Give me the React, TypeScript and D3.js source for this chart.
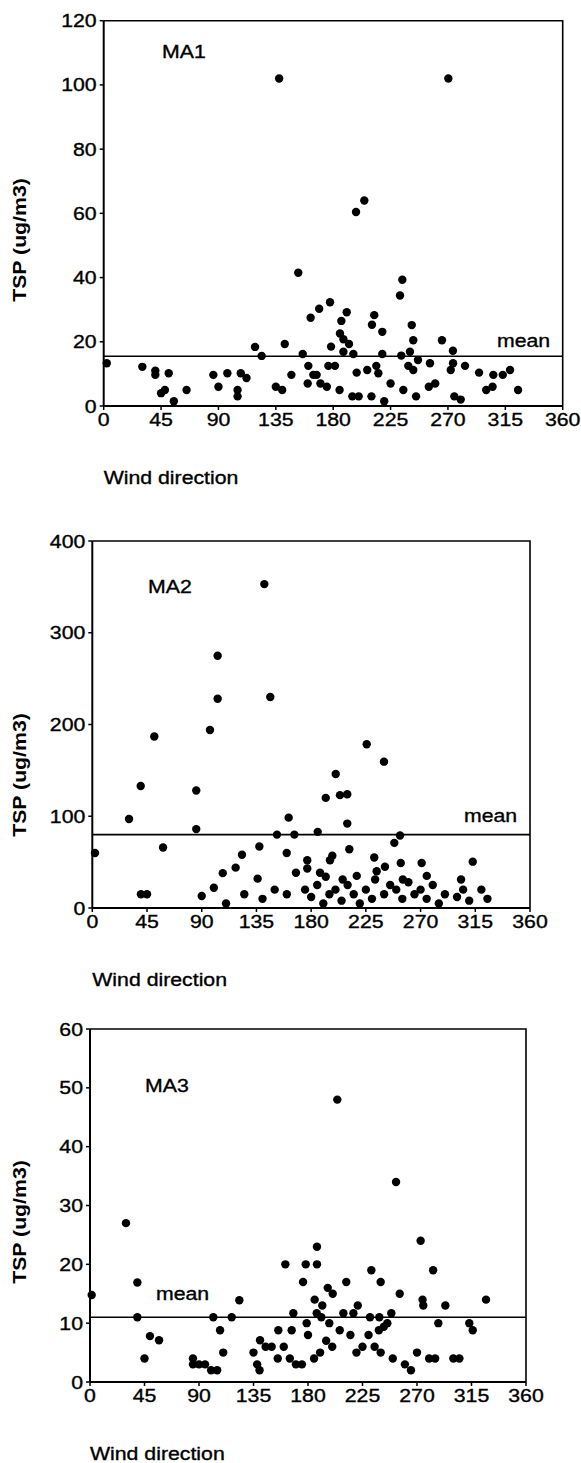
import * as d3 from 'd3'

// wind direction (deg) and TSP (ug/m3)
const ma1Dir = [137.6, 270.3, 204.4, 2.4, 30.3, 40.5, 40.5, 51, 86, 97, 107.5, 112, 118.7, 123.9, 197.9, 152.6, 234.2, 232.4, 177.5, 169, 162.3, 190.6, 212.2, 210.4, 186.4, 218.5, 241.6, 242.8, 265.3, 185.3, 188, 192.4, 188, 195.8, 178.3, 142, 156.1, 218.5, 233.4, 240.2, 273.9, 246.5, 255.9, 160.5, 176.2, 181.4, 213.8, 238.9, 274, 272.2, 283.4, 294.4, 305.6, 313, 318.7, 147.2, 167, 164.4, 198.4, 206.7, 215.4, 242.8,
  45, 48, 55, 65, 90, 105, 105, 135, 140, 160, 170, 175, 185, 195, 200, 210, 220, 225, 235, 245, 255, 260, 275, 280, 300, 305, 325]
const ma1Tsp = [102, 102, 64, 13.3, 12.2, 11, 9.7, 10.2, 9.7, 10.2, 10.2, 8.7, 18.4, 15.6, 60.4, 41.5, 39.3, 34.4, 32.3, 30.3, 27.5, 29.2, 28.3, 25.3, 26.5, 23.1, 25.2, 20.5, 20.5, 22.6, 20.8, 19.3, 16.9, 16.2, 18.5, 19.3, 16.2, 16.2, 15.7, 16.9, 17.2, 14.3, 13.3, 12.5, 12.5, 12.5, 12.5, 12.5, 13.3, 11.2, 12.5, 10.4, 9.7, 9.7, 11.2, 9.7, 9.7, 9.7, 10.4, 11.2, 10.2, 11.2,
  4, 5, 1.5, 5, 6, 3, 5, 6, 5, 7, 7, 6, 5, 3, 3, 3, 1.5, 7, 5, 3, 6, 7, 3, 2, 5, 6, 5]

const ma2Dir = [141.5, 103.1, 103.1, 146.4, 51, 96.8, 39.8, 85.5, 30.2, 85.5, 2.2, 58.2, 161.5, 151.9, 166.2, 185.4, 192, 200.2, 203.7, 209.7, 209.7, 211.4, 137.4, 123.1, 117.9, 107.3, 159.9, 167.5, 176.8, 176.8, 187.3, 195.5, 197.4, 192, 205.9, 217.5, 136, 225.7, 239.9, 253.1, 248.4, 231.9, 240.7, 233.9, 253.7, 270.9, 312.9, 232.6, 255.4, 275.1, 303.3,
  40, 45, 90, 100, 110, 125, 140, 150, 160, 175, 180, 185, 190, 195, 200, 205, 210, 215, 220, 225, 230, 240, 245, 250, 255, 260, 265, 270, 275, 280, 285, 290, 300, 305, 310, 320, 325]
const ma2Tsp = [353, 275, 228, 230, 187, 194, 133, 128, 97, 86, 60, 66, 98.5, 80, 80, 83, 120, 146, 123, 124, 92, 64, 67, 58, 44, 38, 60, 38.5, 52, 43, 38.5, 52, 57, 34, 31, 35, 32, 178.5, 159.5, 79, 71, 55, 45, 40, 49, 49, 50.5, 31, 31, 35, 31,
  15, 15, 13, 22, 5, 15, 10, 20, 15, 20, 12, 25, 5, 15, 20, 8, 25, 15, 5, 20, 10, 15, 25, 20, 10, 28, 15, 20, 10, 25, 5, 15, 12, 20, 8, 20, 10]

const ma3Dir = [204.2, 29.7, 1.4, 39.1, 39.1, 49.5, 57, 101.8, 107.4, 117, 123.3, 140.4, 252.7, 273, 283.3, 187.4, 161.3, 178.1, 187.4, 232.3, 175.9, 211.6, 240, 196.3, 200.4, 255.7, 327, 274.6, 275.2, 293.4, 185.5, 191.8, 221.1, 167.9, 187.2, 191, 209.2, 217.5, 248.8, 231.2, 238.9, 245.5, 287.6, 313.2, 316, 178.9, 197.6, 166.5, 155.5, 206.2, 238.5, 242.6,
  45, 85, 85, 90, 95, 100, 105, 110, 135, 138, 140, 145, 150, 155, 160, 165, 170, 175, 180, 185, 190, 195, 200, 215, 220, 225, 230, 235, 240, 250, 260, 265, 270, 280, 285, 300, 305]
const ma3Tsp = [48, 27, 14.8, 16.9, 11, 7.8, 7.1, 11, 8.8, 11, 13.9, 7.1, 34, 24, 19, 23, 20, 20, 20, 19, 17, 17, 17, 16, 15, 15, 14, 14, 13, 13, 14, 13, 13, 11.7, 11.7, 11, 11.7, 11.7, 11.7, 11, 11, 10, 10, 10, 8.8, 10, 10, 8.8, 8.8, 8.8, 8.8, 9.4,
  4, 4, 3, 3, 3, 2, 2, 5, 5, 3, 2, 6, 6, 4, 6, 4, 3, 3, 8, 4, 5, 7, 6, 8, 5, 6, 8, 6, 5, 4, 3, 2, 5, 4, 4, 4, 4]

const xTicks = [0, 45, 90, 135, 180, 225, 270, 315, 360]

const FONT = 'Liberation Sans, Arial, sans-serif'
const STRETCH = 1.15

interface PanelProps {
  name: string
  dir: number[]
  tsp: number[]
  mean: number
  yMax: number
  yStep: number
  left: number
  right: number
  top: number
  bottom: number
  nameX: number
  nameY: number
  meanX: number
  meanY: number
  titleY: number
}

// scanned text is a little wider and heavier than plain Arial
function Label({ x, y, text, anchor = 'start' }: { x: number; y: number; text: string; anchor?: string }) {
  return (
    <text
      transform={`translate(${x},${y}) scale(${STRETCH},1)`}
      fontFamily={FONT}
      fontSize={18.5}
      textAnchor={anchor}
      fill="#000"
      stroke="#000"
      strokeWidth={0.35}
    >
      {text}
    </text>
  )
}

function Panel(p: PanelProps) {
  const x = d3.scaleLinear().domain([0, 360]).range([p.left, p.right])
  const y = d3.scaleLinear().domain([0, p.yMax]).range([p.bottom, p.top])
  const yTicks = d3.range(0, p.yMax + 1, p.yStep)

  return (
    <g>
      {/* frame */}
      <path
        d={`M${p.left},${p.top}H${p.right}V${p.bottom}`}
        fill="none"
        stroke="#000"
        strokeWidth={1.6}
      />
      <line x1={p.left} x2={p.left} y1={p.top} y2={p.bottom} stroke="#000" strokeWidth={2} />
      <line x1={p.left} x2={p.right} y1={p.bottom} y2={p.bottom} stroke="#000" strokeWidth={2} />

      {yTicks.map(t => (
        <g key={'y' + t}>
          <line x1={p.left - 4} x2={p.left} y1={y(t)} y2={y(t)} stroke="#000" strokeWidth={1.5} />
          <Label x={p.left - 7} y={y(t) + 6.5} text={String(t)} anchor="end" />
        </g>
      ))}
      {xTicks.map(t => (
        <g key={'x' + t}>
          <line x1={x(t)} x2={x(t)} y1={p.bottom} y2={p.bottom + 4} stroke="#000" strokeWidth={1.5} />
          <Label x={x(t)} y={p.bottom + 20} text={String(t)} anchor="middle" />
        </g>
      ))}

      <line x1={p.left} x2={p.right} y1={y(p.mean)} y2={y(p.mean)} stroke="#000" strokeWidth={1.6} />

      {p.dir.map((d, i) => (
        <circle key={i} cx={x(d)} cy={y(p.tsp[i])} r={4.2} fill="#000" />
      ))}

      <Label x={p.nameX} y={p.nameY} text={p.name} />
      <Label x={p.meanX} y={p.meanY} text="mean" />
      <Label x={p.left} y={p.bottom + 78} text="Wind direction" />
      <text
        transform={`translate(26,${p.titleY}) rotate(-90) scale(${STRETCH},1)`}
        fontFamily={FONT}
        fontSize={18.5}
        fontWeight="bold"
        textAnchor="middle"
        fill="#000"
      >
        TSP (ug/m3)
      </text>
    </g>
  )
}

export default function App() {
  return (
    <svg width={581} height={1463} style={{ display: 'block', position: 'absolute', left: 0, top: 0, background: '#fff' }}>
      <Panel name="MA1" dir={ma1Dir} tsp={ma1Tsp} mean={15.5} yMax={120} yStep={20}
        left={103.7} right={562.7} top={20.7} bottom={406}
        nameX={162} nameY={58} meanX={497} meanY={347} titleY={240} />
      <Panel name="MA2" dir={ma2Dir} tsp={ma2Tsp} mean={80} yMax={400} yStep={100}
        left={92.3} right={530} top={541} bottom={908}
        nameX={148} nameY={593} meanX={464} meanY={822} titleY={775} />
      <Panel name="MA3" dir={ma3Dir} tsp={ma3Tsp} mean={11} yMax={60} yStep={10}
        left={90} right={526} top={1029} bottom={1382}
        nameX={145} nameY={1092} meanX={156} meanY={1300} titleY={1222} />
    </svg>
  )
}
